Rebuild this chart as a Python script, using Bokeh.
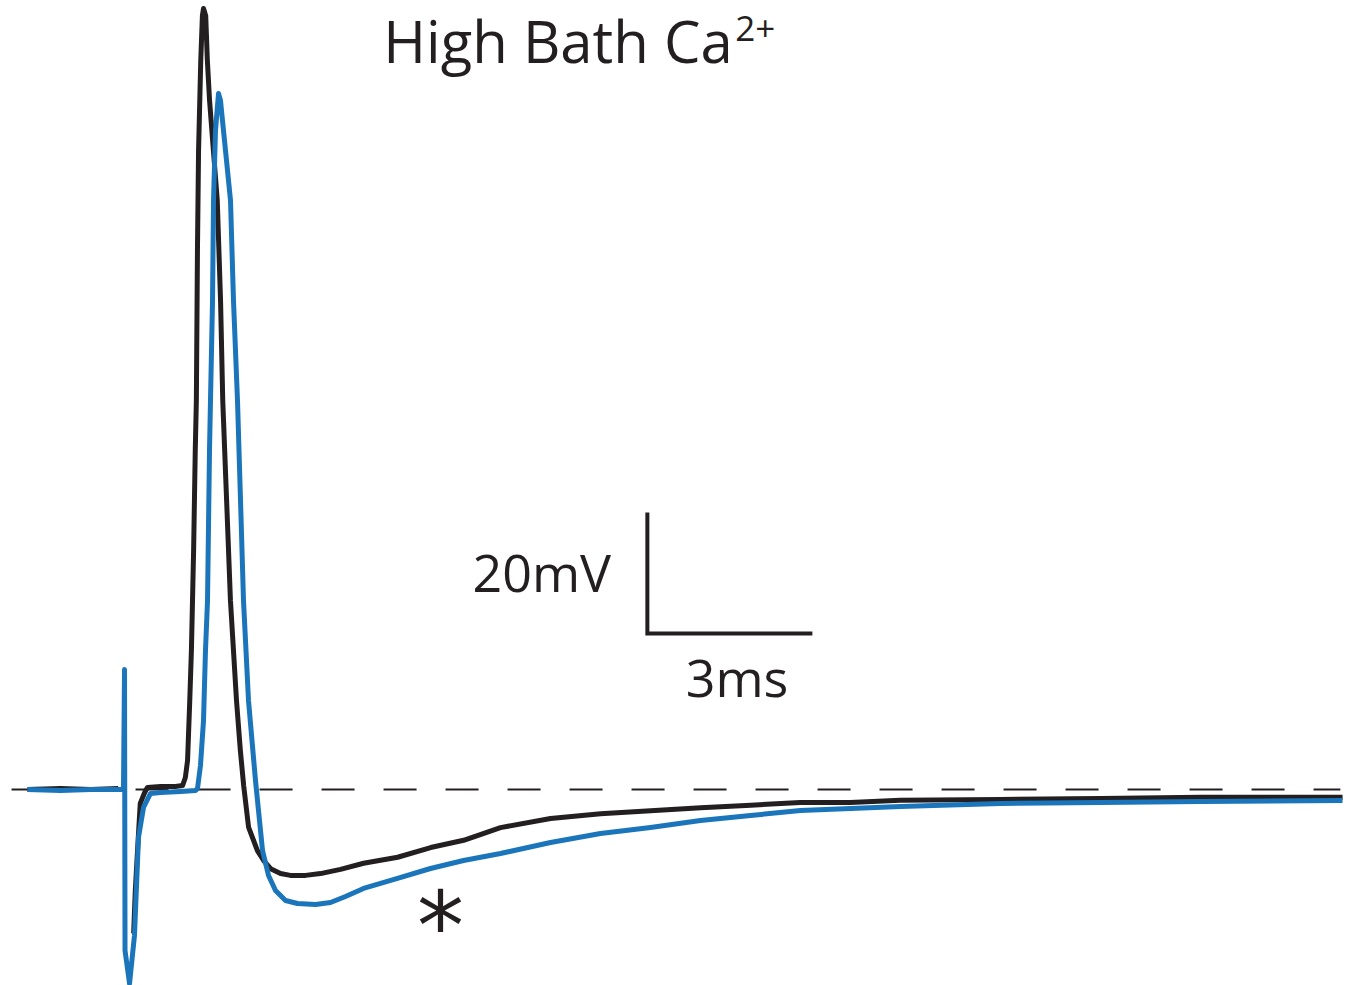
from bokeh.plotting import figure
from bokeh.models import Range1d, Label
from bokeh.embed import file_html
from bokeh.resources import INLINE

nan = float("nan")

# Control trace (black): time in ms, membrane potential relative to rest in mV
black_t = [0, 0.6, 1.15, 1.65, nan,
           1.93, 1.96, 2.0, 2.05, 2.13, 2.18, 2.42, 2.69, 2.82, 2.87, 2.91, 2.95, 2.98,
           3.02, 3.05, 3.07, 3.09, 3.11, 3.15, 3.18, 3.2, 3.24, 3.27, 3.31, 3.38, 3.45,
           3.51, 3.55, 3.62, 3.69, 3.8, 3.87, 3.93, 4.02, 4.18, 4.29, 4.42, 4.6, 4.78,
           5.055, 5.327, 5.691, 6.11, 6.73, 7.33, 7.93, 8.6, 9.51, 10.42, 11.33, 12.24,
           13.15, 14.05, 14.96, 15.87, 17.69, 19.51, 21.33, 23.91]
black_v = [0, 0.17, 0, 0.17, nan,
           -23.8, -16.7, -10.1, -2.3, -0.5, 0.33, 0.5, 0.5, 0.66, 1.98, 4.79, 14.7, 23.0,
           39.5, 56.0, 64.3, 89.1, 105.6, 120.5, 127.9, 129.1, 127.9, 120.5, 113.9, 105.6, 97.4,
           80.8, 64.3, 47.8, 31.2, 14.7, 6.45, 0.66, -6.28, -10.1, -11.7, -13.1, -13.9, -14.2,
           -14.2, -13.9, -13.2, -12.2, -11.2, -9.6, -8.4, -6.3, -4.8, -4.0, -3.5, -3.0,
           -2.6, -2.15, -2.15, -1.8, -1.65, -1.5, -1.3, -1.3]

# High bath Ca2+ trace (blue)
blue_t = [0, 0.6, 1.15, 1.745, 1.764, 1.773, 1.855, 1.945, 2.018, 2.109, 2.236, 2.418,
          2.782, 3.055, 3.091, 3.145, 3.2, 3.236, 3.273, 3.309, 3.327, 3.364, 3.382, 3.418,
          3.473, 3.509, 3.545, 3.6, 3.691, 3.745, 3.818, 3.873, 3.927, 4.018, 4.145, 4.273,
          4.382, 4.509, 4.691, 4.909, 5.236, 5.509, 5.782, 6.109, 6.727, 7.327, 7.927, 8.6,
          9.509, 10.418, 11.327, 12.236, 13.145, 14.055, 14.964, 15.873, 17.691, 19.509,
          21.327, 23.909]
blue_v = [0, -0.17, 0, 0, 19.83, -26.61, -32.07, -24.13, -7.93, -2.98, -0.66, -0.5,
          -0.33, -0.17, 0.17, 3.97, 11.4, 22.98, 31.24, 56.03, 64.3, 80.83, 97.36, 108.93,
          115.04, 113.88, 110.58, 105.62, 97.36, 80.83, 64.3, 47.77, 31.24, 14.71, 1.49, -10.08,
          -14.21, -16.69, -18.35, -18.84, -19.0, -18.68, -17.69, -16.36, -14.71, -13.06, -11.74,
          -10.58, -8.76, -7.27, -6.28, -5.12, -4.3, -3.47, -3.14, -2.81, -2.31, -2.15,
          -1.98, -1.82]

# Resting baseline (dashed)
base_t = [-0.29, 23.87]
base_v = [0, 0]

# Scale bar: 3 ms by 20 mV
bar_origin = (11.27, 25.8)
bar_ms = 3
bar_mv = 20

BLACK = "#231f20"
BLUE = "#1b75bb"
FONT = "Open Sans"

p = figure(width=1354, height=985, output_backend="svg", toolbar_location=None,
           x_range=Range1d(-0.491, 24.127), y_range=Range1d(-32.40, 130.41),
           x_axis_type=None, y_axis_type=None, min_border=0)
p.grid.visible = False
p.outline_line_color = None
p.background_fill_color = "white"
p.border_fill_color = "white"

p.line(base_t, base_v, line_color=BLACK, line_width=2, line_dash="33 29")
p.line(black_t, black_v, line_color=BLACK, line_width=5, line_join="round")
p.line(blue_t, blue_v, line_color=BLUE, line_width=5, line_join="round")

ox, oy = bar_origin
p.line([ox, ox, ox + bar_ms], [oy + bar_mv, oy, oy], line_color=BLACK, line_width=4,
       line_join="miter")

p.add_layout(Label(x=10.61, y=36.0, text="20mV", text_font=FONT, text_font_size="52px",
                   text_color=BLACK, text_align="right", text_baseline="alphabetic"))
p.add_layout(Label(x=12.9, y=18.7, text="3ms", text_font=FONT, text_font_size="52px",
                   text_color=BLACK, text_align="center", text_baseline="alphabetic"))
p.add_layout(Label(x=6.47, y=123.8, text="High Bath Ca", text_font=FONT, text_font_size="58px",
                   text_color=BLACK, text_align="left", text_baseline="alphabetic"))
p.add_layout(Label(x=12.87, y=125.8, text="2+", text_font=FONT, text_font_size="35px",
                   text_color=BLACK, text_align="left", text_baseline="alphabetic"))
p.add_layout(Label(x=7.51, y=-22.6, text="*", text_font="DejaVu Sans", text_font_size="94px",
                   text_color=BLACK, text_align="center", text_baseline="middle"))

open("out.html", "w").write(file_html(p, INLINE))
